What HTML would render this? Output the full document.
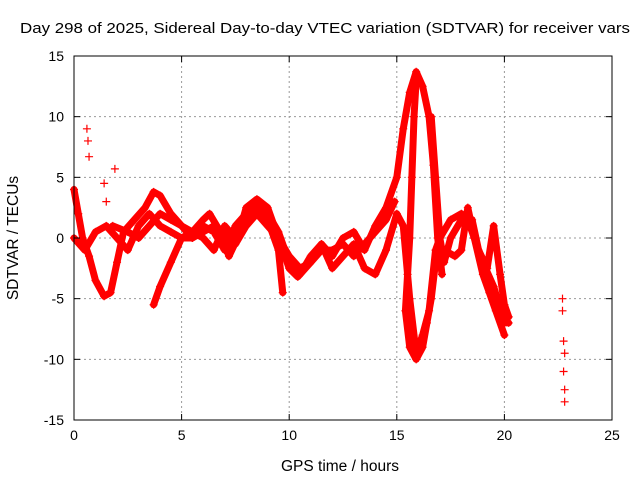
<!DOCTYPE html>
<html><head><meta charset="utf-8"><style>
body{margin:0;background:#fff;}
svg{display:block;font-family:"Liberation Sans",sans-serif;}
</style></head><body>
<svg id="chart" width="640" height="480">
<text x="325" y="33" text-anchor="middle" font-size="15" textLength="610" lengthAdjust="spacingAndGlyphs">Day 298 of 2025, Sidereal Day-to-day VTEC variation (SDTVAR) for receiver vars</text>
<text x="340" y="471" text-anchor="middle" font-size="15.5">GPS time / hours</text>
<text transform="translate(18,238) rotate(-90)" text-anchor="middle" font-size="15.5">SDTVAR / TECUs</text>
<g id="grid"></g><g id="series"></g>
<rect x="74" y="56" width="538" height="364" fill="none" stroke="#000"/>
<g id="ticks"></g>
</svg>
<script>
const xTicks=[0,5,10,15,20,25];
const yTicks=[15,10,5,0,-5,-10,-15];
const s1=[[0,4],[0.2,2],[0.4,0],[0.7,-1.5],[1.0,-3.5],[1.4,-4.8],[1.7,-4.5],[2.0,-2],[2.3,0.5],[2.8,1.5],[3.3,2.5],[3.7,3.8],[4.0,3.5],[4.5,2],[5,1],[5.5,0.5],[6,1.5],[6.3,2],[6.8,0.5],[7.2,-1.5],[7.6,0],[8,2.5],[8.5,3.2],[9,2.5],[9.5,0],[10,-2.5],[10.4,-3.2],[11,-2],[11.5,-0.5],[12,-1.5],[12.5,0],[13,0.5],[13.5,-1],[14,1],[14.5,2.5],[15,5],[15.3,9],[15.6,12],[15.9,13.7],[16.2,12.5],[16.5,10],[16.7,6],[16.9,0],[17.1,-3]];
const s2=[[3.7,-5.5],[4,-4],[4.5,-2],[5,0],[5.5,0.5],[6,0],[6.5,-1],[7,1],[7.5,0],[8,1.5],[8.5,2.5],[9,1.5],[9.5,-1],[9.7,-4.5]];
const s3=[[0,0],[0.5,-1],[1,0.5],[1.5,1],[2,0],[2.5,-1],[3,1],[3.5,2],[4,1],[4.5,0.5],[5,0],[5.5,0],[6,1],[6.5,0.5],[7,-1],[7.5,1],[8,2],[8.5,3],[9,2],[9.5,0.5],[10,-2],[10.5,-3],[11,-1.5],[11.5,-0.5],[12,-2.5],[12.5,-1.5],[13,-0.5],[13.5,-2.5],[14,-3],[14.5,-1],[15,2],[15.3,1],[15.6,-5],[15.9,-9.5],[16.2,-8],[16.5,-6],[16.8,-1],[17,0],[17.5,1.5],[18,2],[18.3,1.5],[18.6,0],[19,-2],[19.5,-4],[20,-7],[20.2,-7]];
const s4=[[15.9,13],[15.8,10],[15.7,5],[15.6,0],[15.5,-3],[15.4,-6],[15.6,-9],[15.9,-10],[16.2,-9],[16.4,-7],[16.6,-5],[16.8,-2],[17.2,-1],[17.7,-1.5],[18.0,-1],[18.3,2.5],[18.6,0],[19,-3],[19.3,-4.5],[19.6,-6],[20,-8]];
const s5=[[16.6,10],[16.8,5],[17,0],[17.2,-2],[17.5,0],[18,1.5],[18.5,1.5],[18.8,-1],[19.2,-2.5],[19.5,1],[19.8,-3],[20,-5.5],[20.2,-6.5]];
const s8=[[1.8,1],[2.5,0.5],[3,0],[3.5,1],[4,2],[4.5,1.5],[5,1],[5.5,0],[6,0.5],[6.5,1],[7,0.5],[7.5,-0.5],[8,1],[8.5,2],[9,1],[9.5,0],[10,-1.5],[10.5,-2.5],[11,-2],[11.5,-1],[12,-1],[12.5,-0.5],[13,-1.5],[13.5,-0.5],[14,0.5],[14.5,1.5],[14.9,3]];
const s6=[[0.6,9],[0.65,8],[0.7,6.7],[1.4,4.5],[1.5,3],[1.9,5.7]];
const s7=[[22.7,-5],[22.7,-6],[22.75,-8.5],[22.8,-9.5],[22.75,-11],[22.8,-12.5],[22.8,-13.5]];
const NS="http://www.w3.org/2000/svg";
const X=t=>74+t*538/25, Y=v=>238-v*364/30;
const grid=document.getElementById('grid'),ticks=document.getElementById('ticks'),ser=document.getElementById('series');
function mk(tag,at,p){const e=document.createElementNS(NS,tag);for(const k in at)e.setAttribute(k,at[k]);p.appendChild(e);return e;}
xTicks.forEach(t=>{
 if(t>0&&t<25){const g=mk('line',{x1:X(t),x2:X(t),y1:56,y2:420,stroke:'#999','stroke-dasharray':'2,3'},grid);
 
 }
 const l=mk('text',{x:X(t),y:440,'text-anchor':'middle','font-size':14},ticks);l.textContent=t;
 
 
 mk('line',{x1:X(t),x2:X(t),y1:420,y2:414,stroke:'#000'},ticks);mk('line',{x1:X(t),x2:X(t),y1:56,y2:62,stroke:'#000'},ticks);
});
yTicks.forEach(v=>{
 if(v<15&&v>-15){const g=mk('line',{x1:74,x2:612,y1:Y(v),y2:Y(v),stroke:'#999','stroke-dasharray':'2,3'},grid);
 
 }
 const l=mk('text',{x:64,y:Y(v)+5,'text-anchor':'end','font-size':14},ticks);l.textContent=v;
 
 
 mk('line',{x1:74,x2:80,y1:Y(v),y2:Y(v),stroke:'#000'},ticks);mk('line',{x1:606,x2:612,y1:Y(v),y2:Y(v),stroke:'#000'},ticks);
});
const all=[[s1,true],[s2,true],[s3,true],[s4,true],[s5,true],[s8,true],[s6,false],[s7,false]];
all.forEach(([s,line],i)=>{
 if(line){const p=mk('polyline',{points:s.map(d=>X(d[0])+','+Y(d[1])).join(' '),fill:'none',stroke:'#f00','stroke-width':7,'stroke-linejoin':'round','stroke-linecap':'round'},ser);
 
 }
 s.forEach(d=>{const x=X(d[0]),y=Y(d[1]);
  const m=mk('path',{d:`M${x-4},${y}H${x+4}M${x},${y-4}V${y+4}`,stroke:'#f00','stroke-width':1.2},ser);
  
  });
});
</script>
</body></html>
